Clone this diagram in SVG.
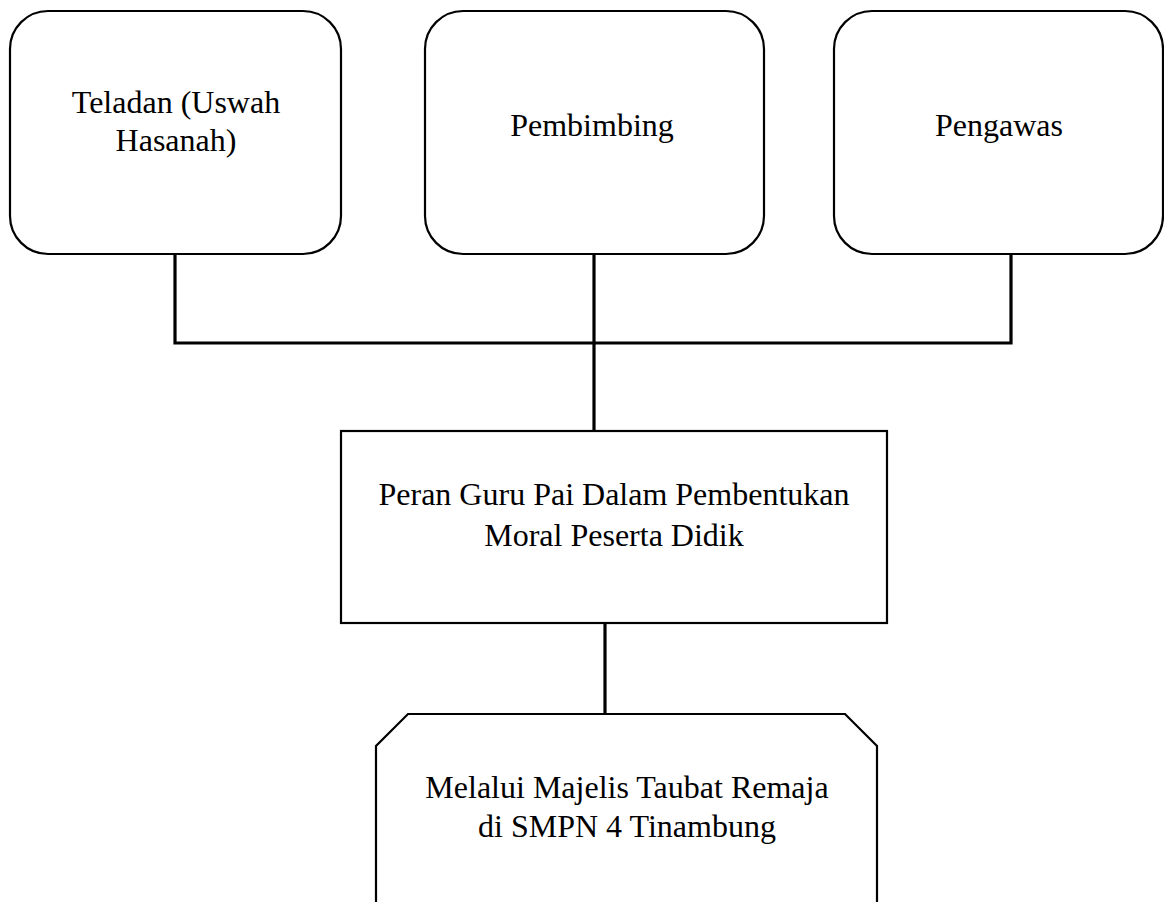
<svg xmlns="http://www.w3.org/2000/svg" width="1164" height="902" viewBox="0 0 1164 902">
<style>
.box{fill:#fff;stroke:#000;stroke-width:2.2}
.con{fill:none;stroke:#000;stroke-width:3.2;stroke-linecap:square}
.t{font-family:"Liberation Serif","Times New Roman",serif;font-size:32px;fill:#000;text-anchor:middle}
</style>
<rect width="1164" height="902" fill="#fff"/>
<g id="connectors">
<polyline class="con" points="175,255 175,343 1011,343 1011,255"/>
<line class="con" x1="594" y1="255" x2="594" y2="431"/>
<line class="con" x1="605" y1="623" x2="605" y2="713"/>
</g>
<g id="teladan">
<rect class="box" x="10" y="11" width="331" height="243" rx="38" ry="38"/>
<text class="t" x="176" y="113">Teladan (Uswah</text>
<text class="t" x="176" y="151">Hasanah)</text>
</g>
<g id="pembimbing">
<rect class="box" x="425" y="11" width="339" height="243" rx="38" ry="38"/>
<text class="t" x="592" y="136">Pembimbing</text>
</g>
<g id="pengawas">
<rect class="box" x="834" y="11" width="329" height="243" rx="38" ry="38"/>
<text class="t" x="999" y="136">Pengawas</text>
</g>
<g id="peran">
<rect class="box" x="341" y="431" width="546" height="192"/>
<text class="t" x="614" y="505">Peran Guru Pai Dalam Pembentukan</text>
<text class="t" x="614" y="546">Moral Peserta Didik</text>
</g>
<g id="melalui">
<path class="box" d="M376,910 L376,746 L408,714 L845,714 L877,746 L877,910"/>
<text class="t" x="627" y="798">Melalui Majelis Taubat Remaja</text>
<text class="t" x="627" y="837">di SMPN 4 Tinambung</text>
</g>
</svg>
